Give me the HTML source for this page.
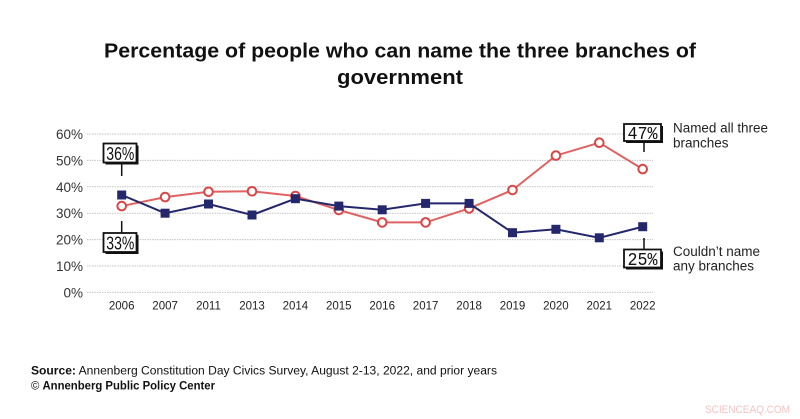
<!DOCTYPE html>
<html><head><meta charset="utf-8"><style>
html,body{margin:0;padding:0;background:#fff;}
svg{display:block;}
</style></head><body>
<svg width="800" height="419" viewBox="0 0 800 419" xmlns="http://www.w3.org/2000/svg" font-family="Liberation Sans, sans-serif">
<rect width="800" height="419" fill="#fff"/>
<text x="400" y="57.3" text-anchor="middle" font-size="20.5" font-weight="bold" fill="#111" textLength="592" lengthAdjust="spacingAndGlyphs">Percentage of people who can name the three branches of</text>
<text x="400" y="84" text-anchor="middle" font-size="20.5" font-weight="bold" fill="#111" textLength="126" lengthAdjust="spacingAndGlyphs">government</text>

<g stroke="#c4c4c4" stroke-width="1" stroke-dasharray="1.5 1">
<line x1="87" y1="134" x2="653" y2="134"/>
<line x1="87" y1="160.4" x2="653" y2="160.4"/>
<line x1="87" y1="186.8" x2="653" y2="186.8"/>
<line x1="87" y1="213.2" x2="653" y2="213.2"/>
<line x1="87" y1="239.6" x2="653" y2="239.6"/>
<line x1="87" y1="266" x2="653" y2="266"/>
<line x1="87" y1="292.4" x2="653" y2="292.4"/>
</g>
<g font-size="13.5" fill="#333" text-anchor="end">
<text x="83" y="139">60%</text>
<text x="83" y="165.4">50%</text>
<text x="83" y="191.8">40%</text>
<text x="83" y="218.2">30%</text>
<text x="83" y="244.6">20%</text>
<text x="83" y="271">10%</text>
<text x="83" y="297.4">0%</text>
</g>
<g font-size="11.5" fill="#222" text-anchor="middle">
<text x="121.7" y="309.5">2006</text>
<text x="165.1" y="309.5">2007</text>
<text x="208.5" y="309.5">2011</text>
<text x="252" y="309.5">2013</text>
<text x="295.4" y="309.5">2014</text>
<text x="338.8" y="309.5">2015</text>
<text x="382.2" y="309.5">2016</text>
<text x="425.6" y="309.5">2017</text>
<text x="469.1" y="309.5">2018</text>
<text x="512.5" y="309.5">2019</text>
<text x="555.9" y="309.5">2020</text>
<text x="599.3" y="309.5">2021</text>
<text x="642.7" y="309.5">2022</text>
</g>

<polyline fill="none" stroke="#e06262" stroke-width="2" points="121.7,206.1 165.1,197.1 208.5,191.8 252,191.3 295.4,196 338.8,210 382.2,222.4 425.6,222.4 469.1,208.4 512.5,190 555.9,155.6 599.3,142.7 642.7,169.1"/>
<g fill="#fff" stroke="#d94646" stroke-width="2">
<circle cx="121.7" cy="206.1" r="4.3"/>
<circle cx="165.1" cy="197.1" r="4.3"/>
<circle cx="208.5" cy="191.8" r="4.3"/>
<circle cx="252" cy="191.3" r="4.3"/>
<circle cx="295.4" cy="196" r="4.3"/>
<circle cx="338.8" cy="210" r="4.3"/>
<circle cx="382.2" cy="222.4" r="4.3"/>
<circle cx="425.6" cy="222.4" r="4.3"/>
<circle cx="469.1" cy="208.4" r="4.3"/>
<circle cx="512.5" cy="190" r="4.3"/>
<circle cx="555.9" cy="155.6" r="4.3"/>
<circle cx="599.3" cy="142.7" r="4.3"/>
<circle cx="642.7" cy="169.1" r="4.3"/>
</g>

<polyline fill="none" stroke="#24276b" stroke-width="2" points="121.7,195 165.1,213.2 208.5,204 252,215 295.4,198.7 338.8,206.1 382.2,209.8 425.6,203.4 469.1,203.4 512.5,232.7 555.9,229.3 599.3,237.8 642.7,226.7"/>
<g fill="#24276b">
<rect x="117.2" y="190.5" width="9" height="9"/>
<rect x="160.6" y="208.7" width="9" height="9"/>
<rect x="204" y="199.5" width="9" height="9"/>
<rect x="247.5" y="210.5" width="9" height="9"/>
<rect x="290.9" y="194.2" width="9" height="9"/>
<rect x="334.3" y="201.6" width="9" height="9"/>
<rect x="377.7" y="205.3" width="9" height="9"/>
<rect x="421.1" y="198.9" width="9" height="9"/>
<rect x="464.6" y="198.9" width="9" height="9"/>
<rect x="508" y="228.2" width="9" height="9"/>
<rect x="551.4" y="224.8" width="9" height="9"/>
<rect x="594.8" y="233.3" width="9" height="9"/>
<rect x="638.2" y="222.2" width="9" height="9"/>
</g>

<!-- callouts -->
<g stroke="#111" stroke-width="1.5">
<line x1="121.7" y1="164" x2="121.7" y2="176"/>
<line x1="121.7" y1="221" x2="121.7" y2="233"/>
<line x1="644" y1="142" x2="644" y2="152"/>
<line x1="644" y1="238" x2="644" y2="249"/>
</g>
<!-- 36% -->
<rect x="105.5" y="145.5" width="33" height="19" fill="#111"/>
<rect x="103.5" y="143.5" width="33" height="19" fill="#fff" stroke="#111" stroke-width="1.8"/>
<text x="120.3" y="160" text-anchor="middle" font-size="18.5" fill="#111" textLength="28" lengthAdjust="spacingAndGlyphs">36%</text>
<!-- 33% -->
<rect x="105.5" y="235" width="33" height="19" fill="#111"/>
<rect x="103.5" y="233" width="33" height="19" fill="#fff" stroke="#111" stroke-width="1.8"/>
<text x="120.3" y="249.5" text-anchor="middle" font-size="18.5" fill="#111" textLength="28" lengthAdjust="spacingAndGlyphs">33%</text>
<!-- 47% -->
<rect x="626" y="126" width="37" height="17" fill="#111"/>
<rect x="624" y="124" width="37" height="17" fill="#fff" stroke="#111" stroke-width="1.8"/>
<text x="642.5" y="139" text-anchor="middle" font-size="18" font-family="Liberation Mono, monospace" fill="#111" textLength="30" lengthAdjust="spacingAndGlyphs">47%</text>
<!-- 25% -->
<rect x="626" y="251.5" width="37" height="18" fill="#111"/>
<rect x="624" y="249.5" width="37" height="18" fill="#fff" stroke="#111" stroke-width="1.8"/>
<text x="642.5" y="265" text-anchor="middle" font-size="18" font-family="Liberation Mono, monospace" fill="#111" textLength="30" lengthAdjust="spacingAndGlyphs">25%</text>

<g font-size="13.5" fill="#222">
<text x="673" y="132.7" textLength="95" lengthAdjust="spacingAndGlyphs">Named all three</text>
<text x="673" y="147.3">branches</text>
<text x="673" y="256">Couldn’t name</text>
<text x="673" y="270.7">any branches</text>
</g>

<text x="31" y="374.7" font-size="11.5" fill="#111" textLength="466" lengthAdjust="spacingAndGlyphs"><tspan font-weight="bold">Source:</tspan> Annenberg Constitution Day Civics Survey, August 2-13, 2022, and prior years</text>
<text x="31" y="389.7" font-size="11.5" fill="#111" textLength="184" lengthAdjust="spacingAndGlyphs">© <tspan font-weight="bold">Annenberg Public Policy Center</tspan></text>

<text x="705" y="413" font-size="11" fill="#f2c4c4" textLength="85" lengthAdjust="spacingAndGlyphs">SCIENCEAQ.COM</text>
</svg>
</body></html>
